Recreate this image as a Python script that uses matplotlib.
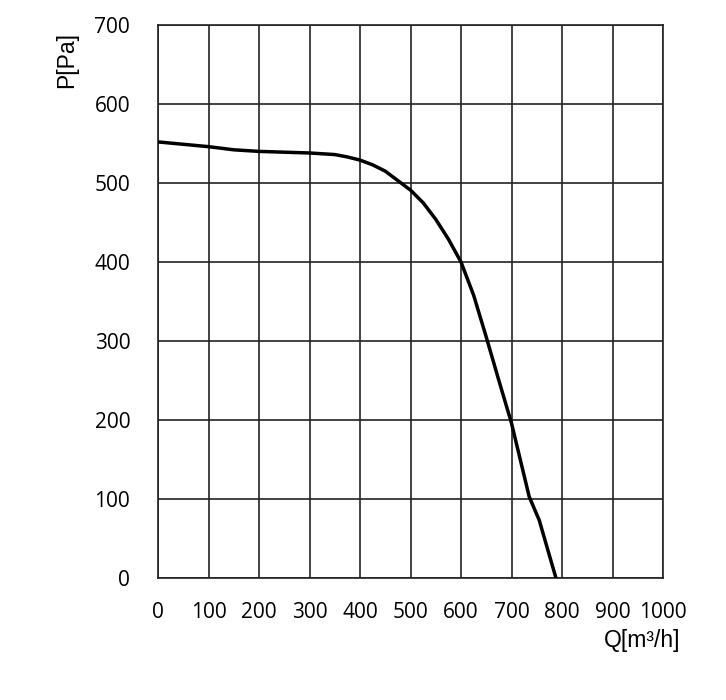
import matplotlib
matplotlib.use("Agg")
import matplotlib.pyplot as plt

# Fan curve: pressure vs. airflow
flow_m3h = [0, 50, 100, 150, 200, 250, 300, 350, 375, 400, 425, 450, 475, 500,
            525, 550, 575, 600, 625, 650, 675, 700, 735, 755, 788]
pressure_pa = [552, 549, 546, 542, 540, 539, 538, 536, 533, 529, 523, 515, 503, 491,
               475, 454, 429, 400, 358, 305, 250, 196, 103, 73, 0]

x_ticks = list(range(0, 1001, 100))
y_ticks = list(range(0, 701, 100))

grid_color = "#222222"

fig = plt.figure(figsize=(7.26, 7.0), dpi=100)
ax = fig.add_axes([158 / 726, 1 - 578 / 700, (663 - 158) / 726, (578 - 25) / 700])

ax.plot(flow_m3h, pressure_pa, color="black", lw=2.5, solid_joinstyle="round", zorder=3)

ax.set_xlim(0, 1000)
ax.set_ylim(0, 700)
ax.set_xticks(x_ticks)
ax.set_yticks(y_ticks)
ax.grid(True, color=grid_color, lw=1.2)
for sp in ax.spines.values():
    sp.set_color(grid_color)
    sp.set_linewidth(1.2)

ax.tick_params(axis="both", length=0, labelsize=15, colors="black")
ax.tick_params(axis="x", pad=17)
ax.tick_params(axis="y", pad=20)
for lbl in ax.get_xticklabels() + ax.get_yticklabels():
    lbl.set_fontfamily("Open Sans")

fig.text(67 / 726, 1 - 60 / 700, "P[Pa]", rotation=90, ha="center", va="center",
         fontsize=16.5, family="Liberation Sans")
fig.text(642 / 726, 1 - 641 / 700, "Q[m³/h]", ha="center", va="center",
         fontsize=16.5, family="Liberation Sans")

fig.savefig("out.png", dpi=100)
